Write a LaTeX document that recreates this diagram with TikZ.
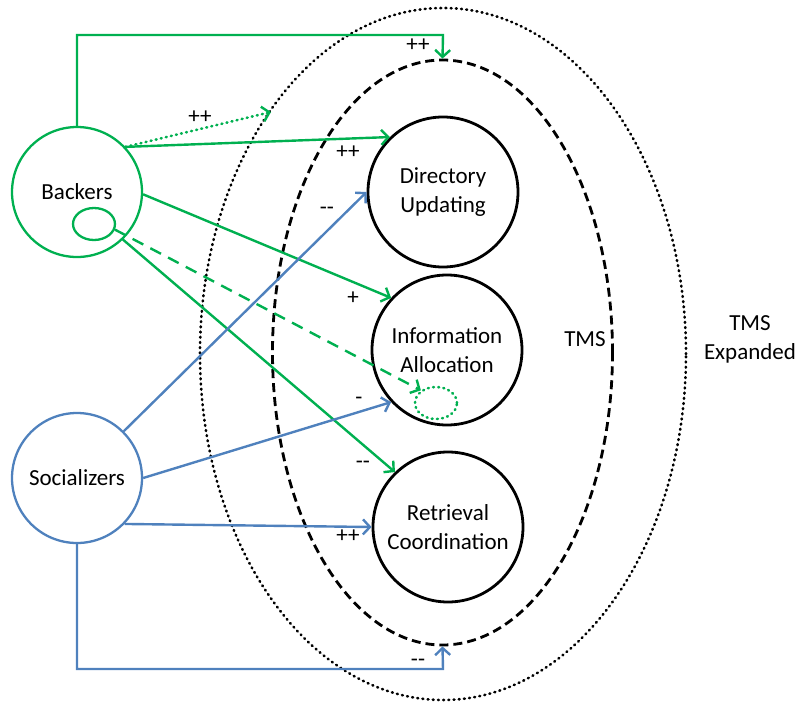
\documentclass[tikz,border=0pt]{standalone}
\usepackage{fontspec}
\setmainfont{Carlito}
\usetikzlibrary{arrows.meta,shapes.geometric}
\definecolor{bgreen}{HTML}{00B050}
\definecolor{sblue}{HTML}{4F81BD}
\tikzset{
  conc/.style={circle, draw=black, line width=2.8pt, minimum size=150pt, inner sep=0pt, align=center, font=\fontsize{23}{29}\selectfont},
  actor/.style={circle, line width=2.3pt, minimum size=130pt, inner sep=0pt, font=\fontsize{23}{29}\selectfont},
  gline/.style={draw=bgreen, line width=2.4pt, -{Straight Barb[length=7pt,width=15pt,line width=2.4pt]}},
  bline/.style={draw=sblue, line width=2.4pt, -{Straight Barb[length=7pt,width=15pt,line width=2.4pt]}},
  lab/.style={font=\fontsize{23}{29}\selectfont, inner sep=0pt},
  dotline/.style={line width=2.6pt, dash pattern=on 0.9pt off 4.3pt, line cap=round},
}
\begin{document}
\begin{tikzpicture}[x=1pt,y=-1pt]
\useasboundingbox (0,0) rectangle (801,702);
% ellipses
\node[ellipse, draw=black, dotline, minimum width=486pt, minimum height=692pt, inner sep=0pt] (tmsx) at (443,354) {};
\node[ellipse, draw=black, line width=2.8pt, dash pattern=on 9pt off 5pt, minimum width=340pt, minimum height=585pt, inner sep=0pt] (tms) at (442.5,352.5) {};
% concept circles
\node[conc] (dir) at (443,192) {Directory\\Updating};
\node[conc] (info) at (447,350) {Information\\Allocation};
\node[conc] (ret) at (448,527) {Retrieval\\Coordination};
% actors
\node[actor, draw=bgreen] (back) at (77,192) {Backers};
\node[actor, draw=sblue] (soc) at (77,478) {Socializers};
\node[ellipse, draw=bgreen, line width=2.3pt, minimum width=42pt, minimum height=32pt, inner sep=0pt] (sm) at (94,224) {};
\node[ellipse, draw=bgreen, dotline, minimum width=42pt, minimum height=32pt, inner sep=0pt] (dsm) at (436,403) {};
% labels
\node[lab] (tmslab) at (585,339) {TMS};
\node[lab, align=center] (tmsxlab) at (750,339) {TMS\\Expanded};
% coordinates
\coordinate (topc) at (443,35);
\coordinate (botc) at (443,669);
\coordinate (dotend) at (271,112);
% green connectors
\draw[gline] (back.north) |- (topc) -- (tms.north);
\draw[gline, dotline] (back.43) -- (dotend);
\draw[gline] (back.43) -- (dir.134);
\draw[gline] (back.-2) -- (info.137);
\draw[gline, dash pattern=on 12pt off 8pt] (sm.-15) -- (dsm.140);
\draw[gline] (back.-46) -- (ret.134);
% blue connectors
\draw[bline] (soc.45) -- (dir.west);
\draw[bline] (soc.east) -- (info.223);
\draw[bline] (soc.-44) -- (ret.west);
\draw[bline] (soc.south) |- (botc) -- (tms.south);
% sign labels
\node[lab] (l1) at (418,45) {++};
\node[lab] (l2) at (200,117) {++};
\node[lab] (l3) at (348,152) {++};
\node[lab] (l4) at (327,211) {-{}-};
\node[lab] (l5) at (353,298) {+};
\node[lab] (l6) at (359,401) {-};
\node[lab] (l7) at (363,465) {-{}-};
\node[lab] (l8) at (348,536) {++};
\node[lab] (l9) at (418,663) {-{}-};
\end{tikzpicture}
\end{document}
